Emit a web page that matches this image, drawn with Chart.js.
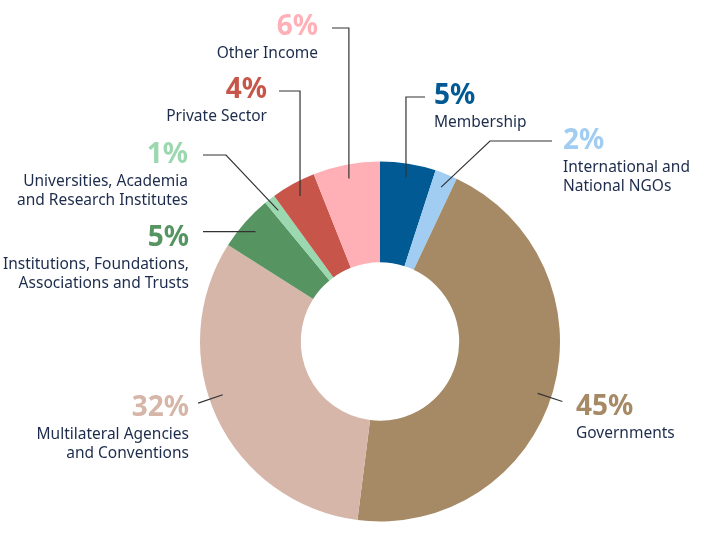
<!DOCTYPE html>
<html>
<head>
<meta charset="utf-8">
<script src="https://cdn.jsdelivr.net/npm/chart.js@4/dist/chart.umd.min.js"></script>
<style>
    html, body { margin: 0; padding: 0; background: #ffffff; }
    #wrap { width: 718px; height: 537px; position: relative; }
</style>
</head>
<body>
<div id="wrap"><canvas id="incomeChart"></canvas></div>
<script>
let categories = [
    ["Membership"],
    ["International and", "National NGOs"],
    ["Governments"],
    ["Multilateral Agencies", "and Conventions"],
    ["Institutions, Foundations,", "Associations and Trusts"],
    ["Universities, Academia", "and Research Institutes"],
    ["Private Sector"],
    ["Other Income"]
]
let shares = [5, 2, 45, 32, 5, 1, 4, 6]
let sliceColors = ["#025a94", "#a0cdf1", "#a68965", "#d6b6a8", "#569462", "#9bd8af", "#c8554a", "#ffb0b6"]

// where each label sits and how its leader line bends
let labelLayout = [
    {kind: "vertical", tx: 434, ty: 96, lx: 425, align: "left"},
    {kind: "diag", tx: 563, ty: 141, lx: 552, ex: 490, align: "left"},
    {kind: "radial", tx: 576, ty: 407, align: "left", turn: 2},
    {kind: "radial", tx: 189, ty: 408, align: "right", turn: 6.5},
    {kind: "flat", tx: 189, ty: 238, lx: 203, align: "right"},
    {kind: "diag", tx: 188, ty: 155, lx: 203, ex: 226, align: "right"},
    {kind: "vertical", tx: 267, ty: 90, lx: 279, align: "right"},
    {kind: "vertical", tx: 318, ty: 27, lx: 332, align: "right"}
]

let textColor = "#1d2c4c"

let leaderLabels = {
    id: "leaderLabels",
    afterDraw(chart){
        let ctx = chart.ctx
        let arcs = chart.getDatasetMeta(0).data
        ctx.save()
        for (let i = 0; i < arcs.length; i++){
            let arc = arcs[i]
            let lay = labelLayout[i]
            let mid = (arc.startAngle + arc.endAngle) / 2 + (lay.turn || 0) * Math.PI / 180
            let r0 = arc.outerRadius - 14
            let sx = arc.x + Math.cos(mid) * r0
            let sy = arc.y + Math.sin(mid) * r0

            ctx.strokeStyle = "#333333"
            ctx.lineWidth = 1.2
            ctx.beginPath()
            ctx.moveTo(sx, sy)
            if (lay.kind == "vertical"){
                ctx.lineTo(sx, lay.ty + 1)
                ctx.lineTo(lay.lx, lay.ty + 1)
            } else if (lay.kind == "diag"){
                ctx.lineTo(lay.ex, lay.ty)
                ctx.lineTo(lay.lx, lay.ty)
            } else if (lay.kind == "flat"){
                ctx.lineTo(lay.lx, sy)
            } else {
                let r1 = arc.outerRadius + 12
                ctx.lineTo(arc.x + Math.cos(mid) * r1, arc.y + Math.sin(mid) * r1)
            }
            ctx.stroke()

            ctx.textAlign = lay.align
            ctx.textBaseline = "middle"
            ctx.fillStyle = sliceColors[i]
            ctx.font = "bold 28px 'Noto Sans'"
            ctx.fillText(shares[i] + "%", lay.tx, lay.ty)

            ctx.fillStyle = textColor
            ctx.font = "15.5px 'Noto Sans'"
            let lines = categories[i]
            for (let j = 0; j < lines.length; j++){
                ctx.fillText(lines[j], lay.tx, lay.ty + 27 + j * 18.5)
            }
        }
        ctx.restore()
    }
}

let chartEl = document.getElementById("incomeChart")
let myChart = new Chart(chartEl, {
    type: "doughnut",
    data: {
        labels: categories.map(function(c){ return c.join(" ") }),
        datasets: [{
            data: shares,
            backgroundColor: sliceColors,
            borderWidth: 0,
            hoverOffset: 0
        }]
    },
    options: {
        responsive: true,
        maintainAspectRatio: false,
        animation: false,
        cutout: "44%",
        layout: {
            padding: {left: 200, right: 158, top: 161, bottom: 15}
        },
        plugins: {
            legend: {display: false},
            tooltip: {enabled: false}
        }
    },
    plugins: [leaderLabels]
})
</script>
</body>
</html>
